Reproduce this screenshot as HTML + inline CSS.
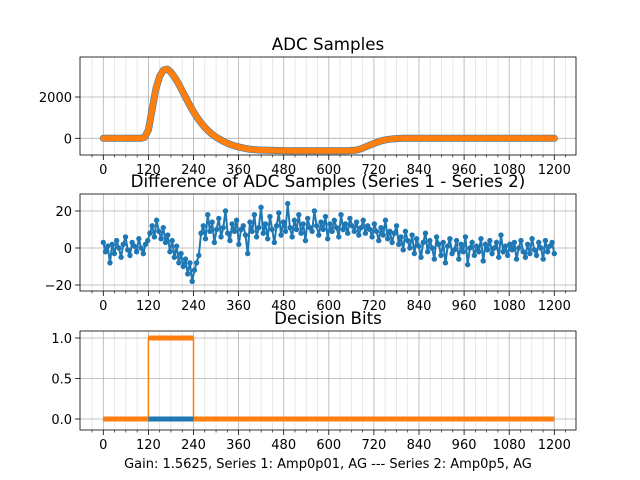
<!DOCTYPE html>
<html><head><meta charset="utf-8"><style>
body{margin:0;background:#fff}
svg{display:block;font-family:"DejaVu Sans","Liberation Sans",sans-serif}
</style></head><body>
<svg id="c" width="640" height="480"></svg>
<script>
const xTicks=[0,120,240,360,480,600,720,840,960,1080,1200];
const adcStep=10;
const adcValues=[0,0,0,0,0,0,0,0,0,0,0,50,400,1400,2400,3000,3300,3350,3200,2950,2650,2300,1950,1600,1280,1000,750,530,350,190,60,-50,-150,-240,-310,-370,-420,-460,-500,-530,-550,-560,-570,-575,-580,-585,-590,-590,-595,-600,-600,-600,-600,-600,-600,-600,-600,-600,-600,-600,-600,-600,-600,-600,-600,-600,-590,-580,-540,-480,-400,-320,-250,-180,-120,-80,-50,-30,-15,-5,0,0,0,0,0,0,0,0,0,0,0,0,0,0,0,0,0,0,0,0,0,0,0,0,0,0,0,0,0,0,0,0,0,0,0,0,0,0,0,0,0];
const adcYTicks=[0,2000];
const diffValues=[3,-2,1,-8,2,-3,4,0,-5,2,6,-1,-4,3,1,-2,5,0,-3,2,4,
8,12,6,15,9,5,11,3,7,-2,4,-5,1,-8,-3,-10,-6,-14,-8,-18,-12,-8,-4,8,
12,5,18,9,14,3,10,16,6,11,20,8,4,13,9,15,2,10,12,7,-3,14,9,18,6,11,22,8,13,5,17,10,3,12,19,7,14,9,24,11,6,15,10,18,8,13,4,16,11,9,20,12,7,14,10,17,5,13,9,15,11,6,18,10,13,8,16,12,9,14,7,11,15,8,12,
10,6,13,9,4,11,7,15,5,9,3,8,12,2,6,-1,9,4,0,7,-3,5,1,-5,3,8,-2,4,0,-6,6,2,-4,3,-8,1,5,-3,-1,4,-6,2,-2,6,-9,0,3,-4,1,-2,5,-7,2,-1,4,-3,0,3,-5,7,-2,1,-4,2,-1,3,-6,0,4,-2,-5,
2,-3,5,-1,-4,3,0,-6,4,-2,1,3,-3];
const diffYTicks=[-20,0,20];
const bitsBlue=[[0,0],[1200,0]];
const bitsOrangeX=[0,120,120,240,240,1200];
const bitsOrangeY=[0,0,1,1,0,0];
const bitsYTicks=[0,0.5,1];

const NS="http://www.w3.org/2000/svg",S=document.getElementById('c');
function mk(t,a,p){const e=document.createElementNS(NS,t);for(const k in a)e.setAttribute(k,a[k]);(p||S).appendChild(e);return e;}
const X=v=>103.3+v*(451/1200);
const L=80,R=576;
function axes(name,top,bot,ymap,yt,title,fmt){
  const g=mk('g',{});
  
  
  for(let v=-30;v<=1230;v+=30){if(v%120==0)continue;mk('line',{x1:X(v),x2:X(v),y1:top,y2:bot,stroke:'#e3e3e3','stroke-width':0.8},g);}
  for(const v of xTicks){mk('line',{x1:X(v),x2:X(v),y1:top,y2:bot,stroke:'#b0b0b0','stroke-width':0.8},g);
    mk('line',{x1:X(v),x2:X(v),y1:bot,y2:bot+5,stroke:'#000','stroke-width':0.8},g);
    const t=mk('text',{x:X(v),y:bot+19,'text-anchor':'middle','font-size':13},g);t.textContent=v;
    }
  for(let v=-30;v<=1230;v+=30){if(v%120==0)continue;mk('line',{x1:X(v),x2:X(v),y1:bot,y2:bot+2.5,stroke:'#000','stroke-width':0.6},g);}
  for(const v of yt){const y=ymap(v);mk('line',{x1:L,x2:R,y1:y,y2:y,stroke:'#b0b0b0','stroke-width':0.8},g);
    mk('line',{x1:L-5,x2:L,y1:y,y2:y,stroke:'#000','stroke-width':0.8},g);
    const t=mk('text',{x:L-8,y:y+5,'text-anchor':'end','font-size':13},g);t.textContent=fmt(v);
    }
  const tt=mk('text',{x:328,y:top-7,'text-anchor':'middle','font-size':16.7},g);tt.textContent=title;
  
  return g;
}
function frame(top,bot){mk('rect',{x:L,y:top,width:R-L,height:bot-top,fill:'none',stroke:'#000','stroke-width':0.8});}
// ADC
const Y1=v=>138.3-v*(41.3/2000);
axes('adc-axes',57,155,Y1,adcYTicks,'ADC Samples',v=>v);
const p1=adcValues.map((v,i)=>X(i*adcStep)+','+Y1(v)).join(' ');
let e=mk('polyline',{points:p1,fill:'none',stroke:'#1f77b4','stroke-width':7,'stroke-linejoin':'round','stroke-linecap':'round'});

e=mk('polyline',{points:p1,fill:'none',stroke:'#ff7f0e','stroke-width':6,'stroke-linejoin':'round','stroke-linecap':'round'});

frame(57,155);
// Diff
const Y2=v=>248-v*(37/20);
const diffStep=1200/(diffValues.length-1);
axes('diff-axes',194,291,Y2,diffYTicks,'Difference of ADC Samples (Series 1 - Series 2)',v=>v<0?'\u221220':v);
const p2=diffValues.map((v,i)=>X(i*diffStep)+','+Y2(v)).join(' ');
e=mk('polyline',{points:p2,fill:'none',stroke:'#1f77b4','stroke-width':2});

diffValues.forEach((v,i)=>{const c=mk('circle',{cx:X(i*diffStep),cy:Y2(v),r:2.7,fill:'#1f77b4'});
});
frame(194,291);
// Bits
const Y3=v=>419-v*81;
axes('bits-axes',331,430,Y3,bitsYTicks,'Decision Bits',v=>v.toFixed(1));
e=mk('line',{x1:X(bitsBlue[0][0]),x2:X(bitsBlue[1][0]),y1:Y3(bitsBlue[0][1]),y2:Y3(bitsBlue[1][1]),stroke:'#1f77b4','stroke-width':5});

const p3=bitsOrangeX.map((x,i)=>X(x)+','+Y3(bitsOrangeY[i])).join(' ');
e=mk('polyline',{points:p3,fill:'none',stroke:'#ff7f0e','stroke-width':1.5});

[[0,120,0],[120,240,1],[240,1200,0]].forEach(s=>{const l=mk('line',{x1:X(s[0]),x2:X(s[1]),y1:Y3(s[2]),y2:Y3(s[2]),stroke:'#ff7f0e','stroke-width':5});
});
mk('line',{x1:X(120),x2:X(240),y1:Y3(0),y2:Y3(0),stroke:'#1f77b4','stroke-width':5});
frame(331,430);
const xl=mk('text',{x:328,y:468,'text-anchor':'middle','font-size':13});
xl.textContent='Gain: 1.5625, Series 1: Amp0p01, AG --- Series 2: Amp0p5, AG';

</script></body></html>
